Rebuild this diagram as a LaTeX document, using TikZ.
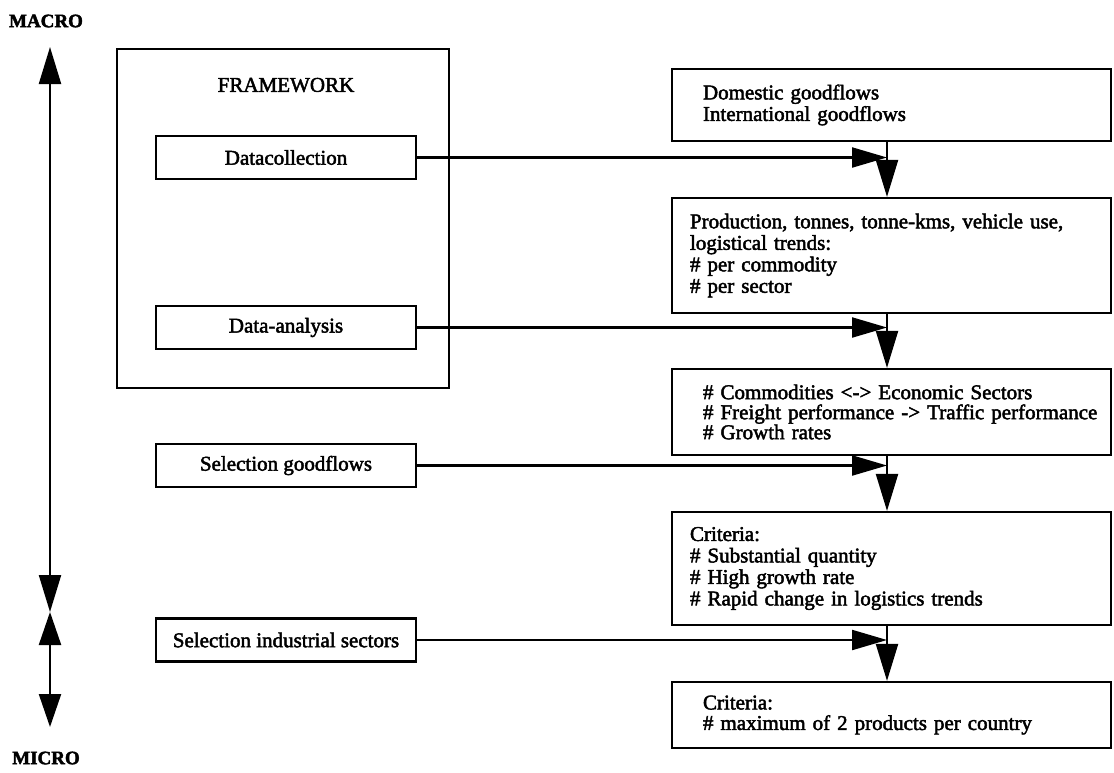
\documentclass[tikz,border=0pt]{standalone}
\usepackage{fontspec}
\setmainfont{Liberation Serif}[FakeBold=2.2]
\usetikzlibrary{arrows.meta}
\begin{document}
\begin{tikzpicture}[x=1pt,y=-1pt,
  every node/.style={font=\fontsize{21}{21.5}\selectfont},
  ln/.style={line width=2.2pt},
  tipend/.style={-{Triangle[length=37pt,width=22pt]}},
  htip/.style={-{Triangle[length=35pt,width=20pt]}},
  lbox/.style={draw,line width=2.2pt,minimum width=260pt,minimum height=43pt,inner sep=0pt},
  rbox/.style={draw,line width=2.2pt,inner ysep=0pt,inner xsep=9pt,text width=421pt,align=left},
  rboxA/.style={rbox,execute at begin node={\leftskip=22pt}},
  rboxB/.style={rbox,execute at begin node={\leftskip=9pt}},
  lbl/.style={inner sep=0pt}]
\useasboundingbox (0,0) rectangle (1114,772);
% axis
\node[lbl,font=\fontsize{19}{21}\selectfont\bfseries] (macro) at (46,21) {MACRO};
\node[lbl,font=\fontsize{19}{21}\selectfont\bfseries] (micro) at (46,758) {MICRO};
\coordinate (top) at (50,47);
\coordinate (mid) at (50,612);
\coordinate (bot) at (50,727);
\draw[ln,{Triangle[length=37pt,width=22pt]}-{Triangle[length=37pt,width=22pt]}] (top) -- (mid);
\draw[ln,{Triangle[length=33pt,width=22pt]}-{Triangle[length=33pt,width=22pt]}] (mid) -- (bot);
% framework
\node[draw,line width=2.2pt,minimum width=332pt,minimum height=339pt,inner sep=0pt] (fw) at (283,218.5) {};
\node[lbl] (fwt) at (286,85) {FRAMEWORK};
\node[lbox] (dc) at (286,157.5) {Datacollection};
\node[lbox] (da) at (286,327.5) {Data-analysis};
\node[lbox] (sg) at (286,465.5) {Selection goodflows};
\node[lbox] (si) at (286,640) {Selection industrial sectors};
% right column
\coordinate (colx) at (887,0);
\node[rboxA,minimum height=72pt] (dom) at (891.5,105) {Domestic goodflows\\International goodflows};
\node[rboxB,minimum height=115pt] (prod) at (891.5,255.5) {Production, tonnes, tonne-kms, vehicle use,\\logistical trends:\\\# per commodity\\\# per sector};
\node[rboxA,minimum height=86pt,font=\fontsize{21}{20}\selectfont] (com) at (891.5,412) {\# Commodities <-> Economic Sectors\\\# Freight performance -> Traffic performance\\\# Growth rates};
\node[rboxB,minimum height=113pt] (crit1) at (891.5,568.5) {Criteria:\\\# Substantial quantity\\\# High growth rate\\\# Rapid change in logistics trends};
\node[rboxA,minimum height=66pt,font=\fontsize{21}{20.5}\selectfont] (crit2) at (891.5,715) {Criteria:\\\# maximum of 2 products per country};
% vertical arrows
\draw[ln,tipend] (colx |- dom.south) -- (colx |- prod.north);
\draw[ln,tipend] (colx |- prod.south) -- (colx |- com.north);
\draw[ln,tipend] (colx |- com.south) -- (colx |- crit1.north);
\draw[ln,tipend] (colx |- crit1.south) -- (colx |- crit2.north);
% horizontal arrows
\draw[ln,htip] (dc.east) -- (dc.east -| colx);
\draw[ln,htip] (da.east) -- (da.east -| colx);
\draw[ln,htip] (sg.east) -- (sg.east -| colx);
\draw[ln,htip] (si.east) -- (si.east -| colx);
\end{tikzpicture}
\end{document}
